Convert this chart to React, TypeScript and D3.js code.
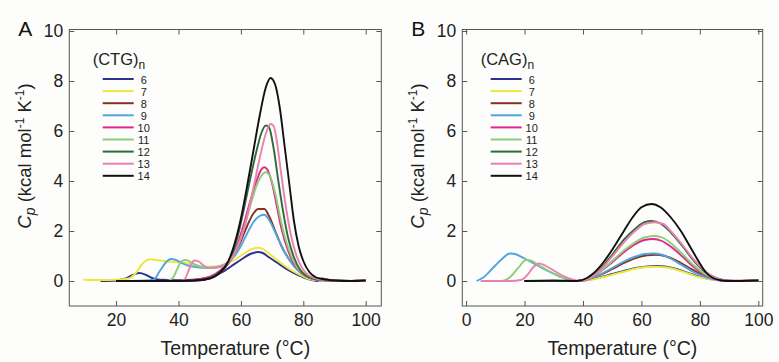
import React, { useEffect, useRef } from "react";
import * as d3 from "d3";

type Pt = [number, number];

// legend entries, shared by both panels
const repeats = ["6", "7", "8", "9", "10", "11", "12", "13", "14"];
const colors = ["#2e3192", "#ece83a", "#8a2f24", "#4fa6de", "#e0288c", "#8fcc78", "#2f6a3c", "#ea80b2", "#111111"];

const xTicksA = [20, 40, 60, 80, 100];
const xTicksB = [0, 20, 40, 60, 80, 100];
const yTicks = [0, 2, 4, 6, 8, 10];

// panel A, (CTG)n : [temperature, Cp]
const ctg6: Pt[] = [[15,0],[20,0.02],[23,0.1],[25.5,0.25],[27.5,0.32],[29.5,0.25],[31.5,0.12],[34,0.05],[40,0.03],[45,0.05],[50,0.15],[54,0.35],[57,0.6],[60,0.85],[63,1.08],[65.5,1.16],[67,1.12],[69,0.95],[72,0.7],[75,0.45],[78,0.25],[81,0.1],[83,0.03],[85,0]];
const ctg7: Pt[] = [[9.5,0.05],[15,0.04],[20,0.05],[24,0.1],[26.5,0.35],[28.5,0.7],[31,0.87],[34,0.82],[37,0.78],[40,0.75],[43,0.7],[46,0.62],[49,0.57],[52,0.58],[55,0.68],[58,0.85],[61,1.1],[63.5,1.28],[65.5,1.33],[67,1.28],[69,1.1],[72,0.8],[75,0.52],[78,0.3],[81,0.12],[84,0.02]];
const ctg8: Pt[] = [[20,0],[35,0],[45,0.02],[50,0.1],[53,0.3],[56,0.7],[58,1.1],[60,1.6],[62,2.2],[64,2.7],[65.5,2.88],[67.5,2.88],[69,2.6],[71,2.0],[73,1.4],[75,0.95],[77,0.6],[79,0.35],[81,0.18],[83.5,0.08],[86,0.1],[88,0.05],[91,0.02],[95,0],[100,0.02]];
const ctg9: Pt[] = [[25,0],[32,0.05],[34,0.4],[36,0.75],[37.5,0.88],[39,0.85],[41,0.72],[43,0.62],[46,0.55],[49,0.52],[52,0.55],[55,0.68],[58,1.0],[60,1.4],[62,1.9],[64,2.35],[66,2.6],[67.5,2.65],[69,2.45],[71,1.95],[73,1.4],[75,0.95],[77,0.6],[79,0.35],[81,0.18],[84,0.05],[86,0]];
const ctg10: Pt[] = [[25,0],[40,0],[48,0.1],[52,0.3],[55,0.6],[57,0.9],[59,1.5],[61,2.3],[63,3.2],[65,4.0],[66.5,4.45],[67.5,4.55],[68.5,4.45],[70,3.9],[71.5,3.0],[73,2.1],[75,1.25],[77,0.7],[79,0.38],[81,0.18],[84,0.06],[87,0.02],[92,0],[100,0.02]];
const ctg11: Pt[] = [[25,0],[36,0],[38,0.1],[39.5,0.45],[41,0.8],[42.5,0.84],[44,0.75],[46,0.62],[48,0.55],[51,0.52],[54,0.6],[57,0.9],[59,1.4],[61,2.1],[63,3.0],[65,3.8],[66.5,4.2],[68,4.35],[69.5,4.15],[71,3.5],[72.5,2.6],[74,1.8],[76,1.05],[78,0.55],[80,0.28],[82,0.12],[85,0.04],[90,0],[100,0.02]];
const ctg12: Pt[] = [[20,0],[40,0],[48,0.05],[52,0.25],[55,0.6],[57,1.0],[59,1.8],[61,2.9],[63,4.1],[65,5.2],[66.5,5.9],[68,6.22],[69,6.15],[70.5,5.3],[72,4.0],[73.5,2.8],[75,1.8],[77,0.95],[79,0.45],[81,0.2],[84,0.07],[87,0.03],[92,0],[100,0.02]];
const ctg13: Pt[] = [[25,0],[40,0],[42,0.08],[43.5,0.5],[45,0.82],[46.5,0.78],[48,0.62],[50,0.52],[53,0.55],[56,0.75],[58,1.1],[60,1.7],[62,2.6],[64,3.7],[66,4.9],[68,5.9],[69.5,6.28],[70.5,6.2],[71.5,5.6],[73,4.2],[74.5,2.9],[76,1.85],[78,0.95],[80,0.45],[82,0.2],[85,0.07],[88,0.03],[92,0],[100,0.02]];
const ctg14: Pt[] = [[20,0],[35,0],[45,0.02],[50,0.1],[53,0.3],[56,0.8],[58,1.5],[60,2.5],[62,3.8],[64,5.2],[66,6.6],[68,7.75],[69.5,8.12],[71,7.85],[72.5,6.9],[74,5.4],[75.5,3.9],[77,2.4],[78.5,1.4],[80,0.8],[82,0.35],[84,0.15],[86,0.08],[90,0.02],[95,0],[100,0.02]];

// panel B, (CAG)n
const cag6: Pt[] = [[20,0],[30,0],[38,0],[42,0.05],[46,0.15],[50,0.28],[54,0.4],[58,0.52],[62,0.58],[65,0.6],[68,0.58],[72,0.48],[76,0.32],[80,0.17],[84,0.07],[88,0.02],[92,0],[100,0.02]];
const cag7: Pt[] = [[20,0],[38,0],[42,0.04],[46,0.13],[50,0.25],[54,0.37],[58,0.5],[62,0.56],[65,0.57],[68,0.55],[72,0.45],[76,0.3],[80,0.15],[84,0.06],[88,0.02],[92,0],[100,0.03]];
const cag8: Pt[] = [[20,0],[38,0],[42,0.08],[46,0.25],[50,0.48],[54,0.72],[58,0.92],[62,1.03],[65,1.05],[68,1.0],[72,0.82],[76,0.55],[80,0.3],[84,0.12],[88,0.03],[92,0],[100,0.02]];
const cag9: Pt[] = [[3.6,0],[6,0.15],[9,0.5],[12,0.85],[15,1.1],[17,1.07],[20,0.9],[24,0.65],[28,0.4],[32,0.18],[35,0.05],[38,0],[42,0.08],[46,0.27],[50,0.52],[54,0.78],[58,0.98],[61,1.08],[64,1.1],[67,1.05],[70,0.9],[74,0.62],[78,0.35],[82,0.15],[86,0.04],[90,0],[100,0.02]];
const cag10: Pt[] = [[20,0],[38,0],[42,0.1],[46,0.38],[50,0.75],[54,1.15],[58,1.48],[61,1.64],[64,1.68],[67,1.6],[70,1.38],[74,0.98],[78,0.55],[82,0.22],[86,0.06],[90,0],[100,0.02]];
const cag11: Pt[] = [[6,0],[12,0],[15,0.15],[18,0.55],[20.5,0.84],[22,0.82],[25,0.62],[28,0.42],[32,0.2],[35,0.07],[38,0],[42,0.1],[46,0.4],[50,0.8],[54,1.22],[58,1.56],[61,1.74],[64.5,1.8],[67.5,1.72],[70,1.52],[74,1.08],[78,0.62],[82,0.26],[86,0.07],[90,0],[100,0.02]];
const cag12: Pt[] = [[20,0],[38,0],[42,0.12],[46,0.5],[50,1.05],[54,1.65],[58,2.1],[61,2.35],[63.5,2.4],[66.5,2.3],[70,1.95],[74,1.4],[78,0.8],[82,0.35],[86,0.1],[90,0],[100,0.02]];
const cag13: Pt[] = [[5,0],[15,0],[19,0.05],[21,0.25],[23,0.55],[25,0.7],[27,0.62],[30,0.42],[33,0.22],[36,0.07],[39,0],[42,0.1],[46,0.45],[50,0.98],[54,1.55],[58,2.02],[61,2.28],[64.5,2.35],[67.5,2.28],[70,2.0],[74,1.45],[78,0.85],[82,0.38],[86,0.1],[90,0.02],[100,0.02]];
const cag14: Pt[] = [[20,0],[30,0.02],[38,0],[41,0.1],[43.5,0.3],[47,0.75],[50,1.25],[54,2.0],[57,2.55],[60,2.95],[63.5,3.08],[66.5,2.95],[70,2.55],[73.5,2.0],[77,1.3],[80,0.7],[82,0.35],[84.5,0.12],[87,0.03],[90,0],[100,0.02]];

const ctgSeries = [ctg6, ctg7, ctg8, ctg9, ctg10, ctg11, ctg12, ctg13, ctg14];
const cagSeries = [cag6, cag7, cag8, cag9, cag10, cag11, cag12, cag13, cag14];

const W = 779;
const H = 362;
const FONT = "'Liberation Sans', Arial, sans-serif";

function drawPanel(root: any, cfg: any) {
  const { left, right, top, bottom, xDomain, xTicks, series, letter, title } = cfg;
  const x = d3.scaleLinear().domain(xDomain).range([left, right]);
  const y = d3.scaleLinear().domain([-1, 10]).range([bottom, top + 1.5]);

  const g = root.append("g");

  // axes, ticks pointing inwards on all four sides
  const bottomAxis = g.append("g").attr("transform", `translate(0,${bottom})`)
    .call(d3.axisBottom(x).tickValues(xTicks).tickSize(-5).tickPadding(8));
  const topAxis = g.append("g").attr("transform", `translate(0,${top})`)
    .call(d3.axisTop(x).tickValues(xTicks).tickSize(-5).tickFormat(() => ""));
  const leftAxis = g.append("g").attr("transform", `translate(${left},0)`)
    .call(d3.axisLeft(y).tickValues(yTicks).tickSize(-5).tickPadding(6));
  const rightAxis = g.append("g").attr("transform", `translate(${right},0)`)
    .call(d3.axisRight(y).tickValues(yTicks).tickSize(-5).tickFormat(() => ""));
  [bottomAxis, topAxis, leftAxis, rightAxis].forEach((a) => {
    a.select(".domain").remove();
    a.selectAll("line").attr("stroke", "#555");
    a.selectAll("text").attr("fill", "#222").style("font-family", FONT).style("font-size", "17.5px");
  });

  g.append("rect")
    .attr("x", left).attr("y", top)
    .attr("width", right - left).attr("height", bottom - top)
    .attr("fill", "none").attr("stroke", "#555").attr("stroke-width", 1);

  const line = d3.line<Pt>()
    .x((d) => x(d[0]))
    .y((d) => y(d[1]))
    .curve(d3.curveMonotoneX);

  g.selectAll("path.curve")
    .data(series)
    .enter()
    .append("path")
    .attr("class", "curve")
    .attr("d", (d: Pt[]) => line(d))
    .attr("fill", "none")
    .attr("stroke", (_d: any, i: number) => colors[i])
    .attr("stroke-width", 1.9)
    .attr("stroke-linejoin", "round");

  // legend
  const lx = left + cfg.legendDx;
  const leg = g.append("g").style("font-family", FONT);
  const tt = leg.append("text").attr("x", lx - 10).attr("y", 65).attr("fill", "#222").style("font-size", "16.5px");
  tt.append("tspan").text(title);
  tt.append("tspan").attr("dy", 4).style("font-size", "12px").text("n");

  repeats.forEach((r, i) => {
    const ly = 79 + i * 12.1;
    leg.append("line")
      .attr("x1", lx).attr("x2", lx + 31)
      .attr("y1", ly).attr("y2", ly)
      .attr("stroke", colors[i]).attr("stroke-width", 2);
    leg.append("text")
      .attr("x", lx + 41).attr("y", ly + 4.5)
      .attr("text-anchor", "middle")
      .attr("fill", "#222")
      .style("font-size", "11px")
      .text(r);
  });

  // panel letter
  g.append("text").attr("x", left - 51).attr("y", 36)
    .style("font-family", FONT).style("font-size", "21px").attr("fill", "#111").text(letter);

  // axis titles
  g.append("text")
    .attr("x", (left + right) / 2 + 10).attr("y", 355)
    .attr("text-anchor", "middle")
    .style("font-family", FONT).style("font-size", "19.5px").attr("fill", "#222")
    .text("Temperature (°C)");

  const yl = g.append("text")
    .attr("transform", `translate(${left - 38},156) rotate(-90)`)
    .attr("text-anchor", "middle")
    .style("font-family", FONT).style("font-size", "18.5px").attr("fill", "#222");
  yl.append("tspan").style("font-style", "italic").text("C");
  yl.append("tspan").attr("dy", 4).style("font-style", "italic").style("font-size", "14px").text("p");
  yl.append("tspan").attr("dy", -4).text(" (kcal mol");
  yl.append("tspan").attr("dy", -7).style("font-size", "12px").text("-1");
  yl.append("tspan").attr("dy", 7).text(" K");
  yl.append("tspan").attr("dy", -7).style("font-size", "12px").text("-1");
  yl.append("tspan").attr("dy", 7).text(")");
}

export default function App() {
  const ref = useRef<SVGSVGElement>(null);

  useEffect(() => {
    const svg = d3.select(ref.current);
    svg.selectAll("*").remove();
    svg.append("rect").attr("width", W).attr("height", H).attr("fill", "#fdfdfb");

    drawPanel(svg, {
      left: 69.3, right: 381.3, top: 29.5, bottom: 306,
      xDomain: [5, 105], xTicks: xTicksA,
      series: ctgSeries, letter: "A", title: "(CTG)", legendDx: 33.4,
    });
    drawPanel(svg, {
      left: 462.3, right: 762.7, top: 29.5, bottom: 306,
      xDomain: [-1.3, 101.5], xTicks: xTicksB,
      series: cagSeries, letter: "B", title: "(CAG)", legendDx: 28.4,
    });
  }, []);

  return (
    <svg ref={ref} width={W} height={H} style={{ position: "absolute", left: 0, top: 0 }} />
  );
}
